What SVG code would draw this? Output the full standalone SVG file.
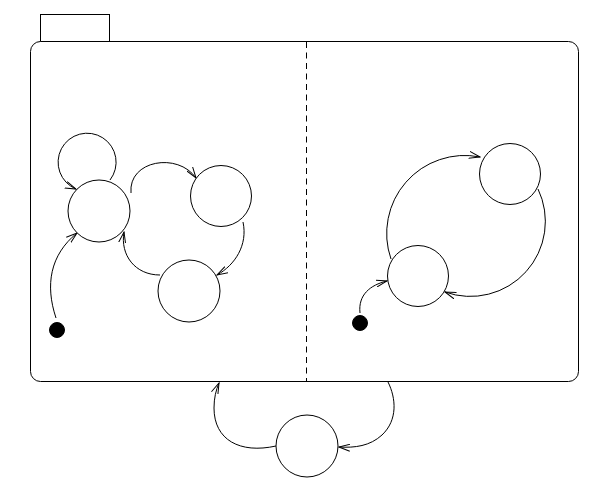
<svg xmlns="http://www.w3.org/2000/svg" width="609" height="490" viewBox="0 0 609 490">
<defs>
<style>
.st{fill:#fff;stroke:#000;stroke-width:1}
.ed{fill:none;stroke:#000;stroke-width:1;marker-end:url(#ah)}
.init{fill:#000;stroke:#000}
</style>
<marker id="ah" markerWidth="12" markerHeight="8" refX="11" refY="4" orient="auto" markerUnits="userSpaceOnUse">
<path d="M0,0.5 L11,4 L0,7.5" fill="none" stroke="#000" stroke-width="1"/>
</marker>
</defs>
<rect width="609" height="490" fill="#fff"/>
<g id="container">
<rect x="40.5" y="14.5" width="69" height="27" fill="#fff" stroke="#000"/>
<rect x="30.5" y="41.5" width="548" height="340" rx="10" ry="10" fill="#fff" stroke="#000"/>
<line x1="306.5" y1="42" x2="306.5" y2="381" stroke="#000" stroke-dasharray="6,4.5"/>
</g>
<g id="connectors">
<path class="ed" d="M110,180 A29,29 0 1 0 76,189"/>
<path class="ed" d="M131,193 C128,160 178,152 196,178"/>
<path class="ed" d="M243,222 C248,245 235,265 217,275"/>
<path class="ed" d="M160,275 C135,275 120,255 124,232"/>
<path class="ed" d="M56,318 C45,285 50,255 77,233"/>
<path class="ed" d="M391,259 A78,78 0 0 1 480,157"/>
<path class="ed" d="M538,189 A75,75 0 0 1 445,292"/>
<path class="ed" d="M360,313 C358,295 370,285 387,281"/>
<path class="ed" d="M276,446 C240,454 214,440 214,408 C214,398 216,390 219,383"/>
<path class="ed" d="M388,382 C396,398 398,420 382,435 C370,446 355,448 339,447"/>
</g>
<g id="s1"><circle class="st" cx="99" cy="211" r="31"/></g>
<g id="s2"><circle class="st" cx="221" cy="196" r="30.5"/></g>
<g id="s3"><circle class="st" cx="189" cy="291" r="31"/></g>
<g id="i1"><circle class="init" cx="57" cy="330" r="7.5"/></g>
<g id="s4"><circle class="st" cx="510" cy="174" r="30.5"/></g>
<g id="s5"><circle class="st" cx="418" cy="276" r="30.5"/></g>
<g id="i2"><circle class="init" cx="360" cy="323" r="7.5"/></g>
<g id="s6"><circle class="st" cx="307" cy="446" r="31"/></g>
</svg>
